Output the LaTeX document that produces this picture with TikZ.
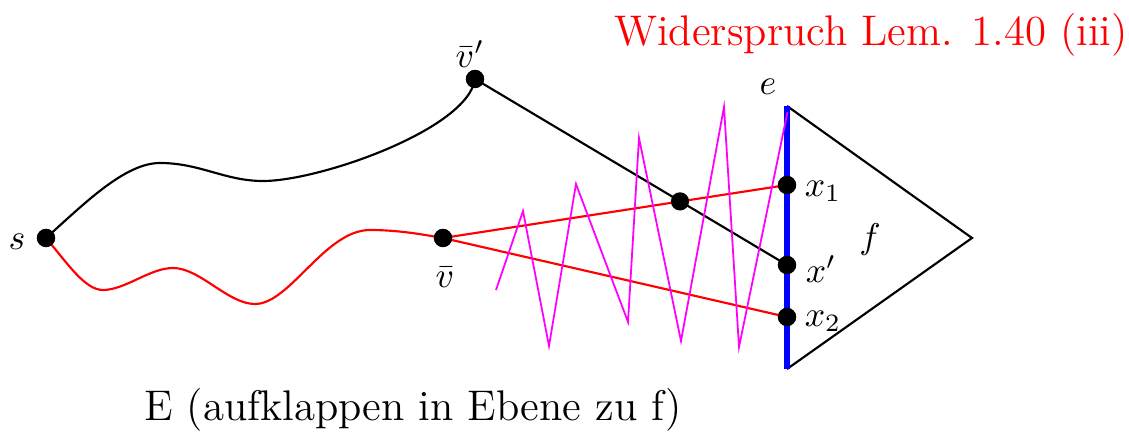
\documentclass[tikz,border=0pt]{standalone}
\definecolor{zigmag}{RGB}{255,0,255}
\definecolor{pathred}{RGB}{255,0,0}
\definecolor{edgeb}{RGB}{0,0,255}
\begin{document}
\begin{tikzpicture}[x=0.28pt,y=0.28pt,
  dot/.style={circle,fill=black,inner sep=0pt,minimum size=5.1pt},
  lbl/.style={inner sep=0pt},
  blk/.style={black,line width=0.6pt},
  redl/.style={pathred,line width=0.6pt},
  mag/.style={zigmag,line width=0.5pt},
  edgeblue/.style={edgeb,line width=1.5pt}]
\useasboundingbox (0,0) rectangle (1129,439);
% nodes
\node[dot] (s) at (46,201) {};
\node[dot] (vp) at (475,360) {};
\node[dot] (vb) at (443,201) {};
\node[dot] (x1) at (787,254) {};
\node[dot] (xp) at (787,174) {};
\node[dot] (x2) at (787,122) {};
\coordinate (et) at (787,333);
\coordinate (eb) at (787,70);
\coordinate (apex) at (972,201);
\coordinate (cr) at (680,237.6);
% face f
\draw[blk] (et) -- (apex) -- (eb);
\draw[edgeblue] (et) -- (eb);
% black path s -> v'
\draw[blk] (s.center) .. controls (85,236) and (125,276) .. (160,276)
  .. controls (200,276) and (225,258) .. (263,258)
  .. controls (320,258) and (468,310) .. (vp.center);
\draw[blk] (vp.center) -- (xp.center);
% red path s -> v
\draw[redl] (s.center) .. controls (68,175) and (85,149) .. (103,149)
  .. controls (125,149) and (150,171) .. (173,171)
  .. controls (200,171) and (228,135) .. (255,135)
  .. controls (290,135) and (325,209) .. (370,209)
  .. controls (400,209) and (425,204) .. (vb.center);
\draw[redl] (vb.center) -- (x1.center);
\draw[redl] (vb.center) -- (x2.center);
% zigzag
\draw[mag] (496,149) -- (523,228) -- (549,93) -- (576,255) -- (628,117) -- (639,301) -- (681,98) -- (724,332) -- (739,92) -- (787.5,327);
% dots on top
\node[dot] (c) at (cr) {};
\node[dot] at (s) {};
\node[dot] at (vp) {};
\node[dot] at (vb) {};
\node[dot] at (x1) {};
\node[dot] at (xp) {};
\node[dot] at (x2) {};
% labels
\node[lbl] (ls) at (17,197) {$s$};
\node[lbl] (lvp) at (470,385) {$\bar{v}'$};
\node[lbl] (lvb) at (445,162) {$\bar{v}$};
\node[lbl] (le) at (768,352) {$e$};
\node[lbl] (lx1) at (823,248) {$x_1$};
\node[lbl] (lxp) at (821,170) {$x'$};
\node[lbl] (lx2) at (823,118) {$x_2$};
\node[lbl] (lf) at (870,199) {$f$};
\node[lbl,pathred,font=\large] (title) at (871,404) {Widerspruch Lem. 1.40 (iii)};
\node[lbl,font=\large] (cap) at (413,29) {E (aufklappen in Ebene zu f)};
\end{tikzpicture}
\end{document}
